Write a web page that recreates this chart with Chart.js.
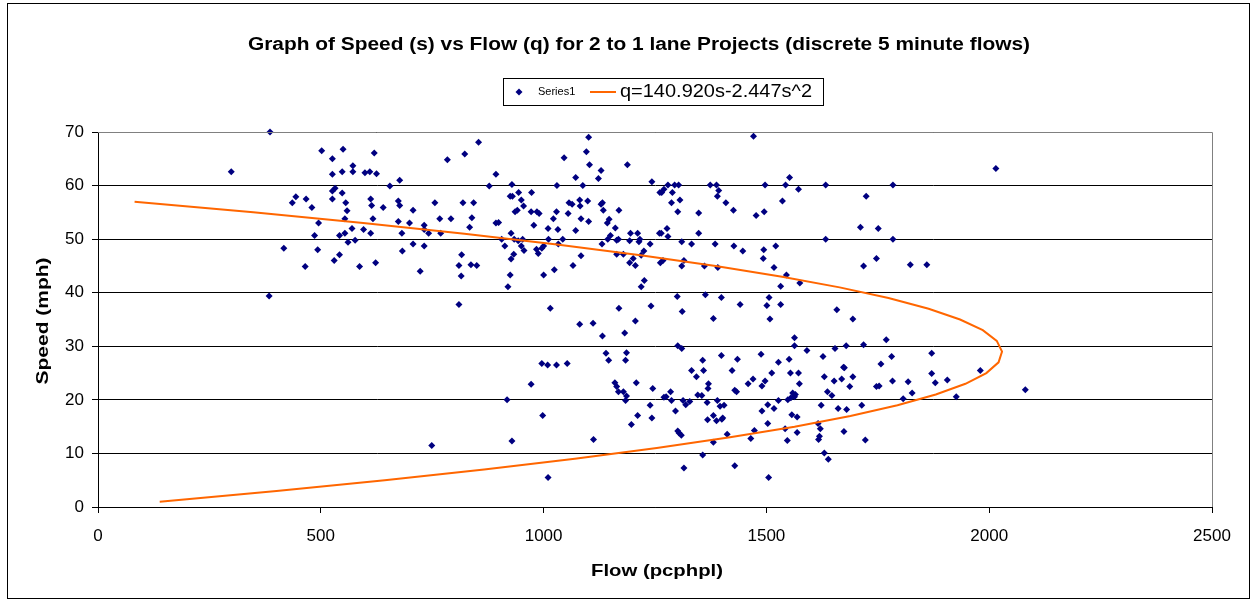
<!DOCTYPE html>
<html>
<head>
<meta charset="utf-8">
<script src="https://cdn.jsdelivr.net/npm/chart.js@4.4.1/dist/chart.umd.min.js"></script>
<style>
  body { margin: 0; background: #fff; }
  canvas { display: block; }
</style>
</head>
<body>
<canvas id="speed-flow" width="1252" height="599"></canvas>
<script>
const flowValues = [
  386, 299, 502, 550, 526, 620, 572, 526, 548, 572, 599, 610, 625, 532, 526, 548, 526, 444, 436, 467,
  480, 556, 559, 554, 612, 614, 617, 495, 570, 596, 612, 554, 542, 486, 561, 577, 417, 493, 542, 530,
  465, 587, 623, 384,
  655, 677, 640, 674, 677, 674, 699, 682, 683, 707, 707, 723, 732, 732, 742, 732, 756, 767, 769, 784,
  792, 823, 854, 819, 843, 839, 834, 816, 810, 815, 837, 850, 810, 893, 878, 893, 899, 906, 913, 927,
  929, 925, 930, 944, 950, 955, 936, 941, 934, 943, 953, 950, 956, 933, 927, 925, 920, 973, 972, 985,
  990, 978, 984, 988, 996, 1000, 1000, 1010, 1011, 1022, 1029, 1030, 1032, 1033, 1043, 1024, 1015, 1046, 1055, 1057,
  1064, 1072, 1072, 1066, 1081, 1082, 1084, 1084, 1088, 1096, 1101, 1103, 1099, 1101, 1123, 1129, 1129, 1132, 1134, 1131,
  1143, 1147, 1150, 1144, 1161, 1164, 1168, 1169, 1164, 1179, 1188, 1195, 1193, 1211, 1216, 1214, 1219, 1225, 1193, 1201,
  1206, 1239, 1243, 1261, 1226, 1219, 1169, 1241,
  1471, 1260, 1264, 1262, 1268, 1265, 1270, 1279, 1294, 1303, 1289, 1287, 1306, 1301, 1277, 1279, 1310, 1315, 1310, 1332,
  1348, 1348, 1361, 1374, 1388, 1393, 1390, 1409, 1426, 1385, 1391, 1427, 1447, 1477, 1495, 1497, 1494, 1493, 1521, 1517,
  1536, 1543, 1552, 1572, 1545, 1575, 1532, 1633, 1633, 1724, 1711, 1751, 1784, 1784, 1747, 1718, 1823, 1860, 1300, 1363,
  1399, 1506, 1441, 1501, 1532, 1311, 1658, 2015,
  1081, 1111, 1206, 1182, 1132, 1140, 1146, 1186, 1184, 996, 1009, 1029, 1053, 972, 918, 998, 929, 749, 1010, 1112,
  1160, 1164, 1168, 1179, 1186, 1184, 1208, 1245, 1239, 1211, 1243, 1197,
  1381, 1508, 1694, 1301, 1310, 1563, 1563, 1591, 1654, 1679, 1718, 1769, 1871, 1357, 1399, 1435, 1488, 1527, 1551, 1627,
  1781, 1757, 1673, 1675, 1332, 1359, 1423, 1343, 1512, 1554, 1572, 1630, 1694, 1669, 1652, 1783, 1818, 1871, 1879, 1470,
  1459, 1497, 1490, 1574, 1687, 1370, 1369, 1285, 1275, 1270, 1287, 1296, 1346, 1355, 1313, 1328, 1319, 1367, 1390, 1396,
  1405, 1368, 1381, 1388, 1400, 1402, 1412, 1381, 1301, 1304, 1309, 1357, 1315, 1429, 1505, 1433, 1429, 1465, 1473, 1490,
  1503, 1503, 1517, 1527, 1542, 1547, 1548, 1555, 1559, 1563, 1565, 1557, 1569, 1569, 1623, 1616, 1621, 1619, 1617, 1630,
  1639, 1637, 1647, 1661, 1680, 1674, 1714, 1722, 1747, 1753, 1807, 1827,
  1906, 1926, 1980, 2081
];
const speedValues = [
  70.0, 62.6, 66.5, 66.8, 65.0, 66.1, 63.7, 62.1, 62.6, 62.6, 62.4, 62.6, 62.2, 59.5, 59.0, 58.6, 57.5, 57.9, 56.8, 57.5,
  55.9, 56.8, 55.3, 53.8, 57.5, 56.3, 53.8, 53.0, 52.0, 51.8, 51.1, 51.1, 50.7, 50.7, 49.4, 49.8, 48.3, 48.0, 47.1, 46.0,
  44.9, 44.9, 45.6, 39.4,
  59.9, 61.0, 55.9, 57.1, 56.3, 53.3, 53.0, 51.1, 47.8, 55.4, 49.1, 44.0, 52.6, 51.8, 51.1, 48.7, 56.8, 53.8, 51.1, 64.8,
  53.8, 65.9, 68.1, 56.8, 56.8, 54.0, 52.2, 47.1, 45.1, 43.1, 45.2, 45.1, 37.8, 62.1, 59.9, 53.0, 53.1, 50.0, 48.7, 51.1,
  60.2, 58.0, 58.0, 58.7, 57.3, 56.2, 55.1, 55.4, 50.0, 49.7, 50.0, 48.7, 47.9, 47.2, 46.3, 43.3, 41.1, 58.7, 55.1, 55.1,
  54.8, 52.6, 48.1, 47.3, 48.3, 48.7, 43.3, 52.0, 50.0, 53.8, 55.1, 60.0, 51.8, 49.1, 50.0, 44.3, 37.1, 65.2, 54.8, 56.8,
  56.5, 61.5, 51.6, 45.1, 57.3, 56.2, 53.8, 46.9, 60.0, 66.3, 69.0, 63.9, 57.1, 53.3, 61.3, 62.8, 56.5, 56.8, 55.4, 49.1,
  53.0, 53.7, 50.7, 50.0, 52.1, 49.8, 50.0, 55.4, 47.2, 47.2, 63.9, 51.1, 49.7, 51.1, 50.0, 49.5, 47.0, 47.8, 45.6, 46.4,
  45.1, 49.1, 60.7, 58.7, 42.3, 41.1, 37.1, 37.5,
  69.2, 51.1, 51.1, 45.6, 46.0, 58.7, 59.3, 60.1, 60.1, 60.1, 58.7, 56.8, 57.3, 55.1, 52.0, 50.5, 49.5, 46.0, 45.0, 49.1,
  54.9, 51.1, 45.0, 60.1, 60.1, 59.1, 58.0, 56.8, 55.4, 49.1, 44.7, 48.7, 47.8, 54.4, 55.1, 60.1, 48.0, 46.4, 48.7, 44.7,
  57.1, 60.1, 61.5, 59.3, 43.3, 41.8, 41.2, 60.1, 50.0, 58.0, 52.2, 52.0, 60.1, 50.0, 46.4, 45.0, 45.2, 45.2, 39.3, 39.6,
  39.1, 39.1, 37.8, 37.6, 37.8, 36.5, 36.8, 63.2,
  34.1, 34.3, 34.7, 32.5, 31.9, 28.7, 27.4, 28.8, 27.4, 26.8, 26.5, 26.5, 26.8, 22.9, 20.0, 17.1, 12.3, 11.5, 5.5, 12.6,
  23.2, 22.5, 21.5, 21.5, 20.7, 19.9, 23.2, 22.1, 19.0, 17.1, 16.6, 15.4,
  35.2, 35.1, 35.1, 30.1, 29.6, 31.6, 30.1, 29.2, 29.6, 30.1, 30.3, 31.2, 28.7, 27.4, 28.3, 27.6, 28.5, 27.0, 27.6, 28.1,
  28.1, 26.7, 26.1, 26.0, 25.5, 25.5, 25.5, 24.3, 25.0, 25.0, 25.0, 24.3, 24.3, 23.9, 23.5, 23.5, 23.4, 24.9, 23.2, 23.9,
  23.0, 23.5, 22.6, 23.0, 22.5, 23.0, 22.1, 21.5, 20.6, 20.5, 19.9, 17.9, 20.9, 20.8, 19.9, 19.7, 19.1, 19.5, 19.9, 18.8,
  19.0, 16.3, 17.1, 16.1, 16.4, 16.6, 13.6, 12.1, 14.2, 13.8, 13.4, 9.7, 7.3, 7.7, 5.5, 21.5, 21.8, 12.8, 14.3, 17.9,
  19.1, 15.6, 18.4, 19.9, 14.6, 12.4, 20.0, 20.4, 21.3, 20.6, 21.0, 17.2, 16.8, 13.9, 19.0, 15.6, 14.6, 13.2, 12.6, 10.1,
  8.9, 21.5, 20.8, 18.4, 18.2, 14.1, 19.0, 12.5, 22.5, 22.6, 20.2, 21.3,
  23.7, 20.6, 25.5, 21.9
];

// fitted curve q = 140.920s - 2.447s^2, points along the orange line
const curveSpeed = [1, 3, 5, 7, 9, 11, 13, 15, 17, 19, 21, 23, 25, 27, 29, 31, 33, 35, 37, 39, 41, 43, 45, 47, 49, 51, 53, 55, 57];
const curveFlow = [138.5, 400.7, 643.4, 866.5, 1070.1, 1254.0, 1418.4, 1563.2, 1688.5, 1794.1, 1880.2, 1946.7, 1993.6, 2021.0, 2028.8,
  2017.0, 1985.6, 1934.6, 1864.1, 1774.0, 1664.3, 1535.1, 1386.2, 1217.8, 1029.8, 822.3, 595.1, 348.4, 82.1];

const chartTitle = "Graph of Speed (s) vs Flow (q) for 2 to 1 lane Projects (discrete 5 minute flows)";
const seriesNames = ["Series1", "q=140.920s-2.447s^2"];
const xTitle = "Flow (pcphpl)";
const yTitle = "Speed (mph)";

const FONT = "'Liberation Sans', Arial, sans-serif";
const NAVY = "#000080";
const ORANGE = "#FF6600";

let canvas = document.getElementById("speed-flow");
let ctx = canvas.getContext("2d");

const scatterPts = flowValues.map((f, i) => ({ x: f, y: speedValues[i] }));
const curvePts = curveFlow.map((f, i) => ({ x: f, y: curveSpeed[i] }));

function diamond(c, x, y, r) {
    c.beginPath();
    c.moveTo(x, y - r);
    c.lineTo(x + r, y);
    c.lineTo(x, y + r);
    c.lineTo(x - r, y);
    c.closePath();
    c.fill();
}

// the original text is a bit wider than Arial, so stretch it to the same width
function wideText(c, text, x, y, width, angle) {
    const w = c.measureText(text).width;
    c.save();
    c.translate(x, y);
    if (angle) c.rotate(angle);
    c.scale(width / w, 1);
    c.fillText(text, 0, 0);
    c.restore();
}

new Chart(ctx, {
    type: 'scatter',
    data: {
        datasets: [
            {
                label: seriesNames[1],
                data: curvePts,
                showLine: true,
                borderColor: ORANGE,
                borderWidth: 2,
                pointRadius: 0,
                fill: false,
                tension: 0,
                order: 0
            },
            {
                label: seriesNames[0],
                data: scatterPts,
                pointStyle: 'rectRot',
                pointRadius: 3.5,
                backgroundColor: NAVY,
                borderColor: NAVY,
                borderWidth: 0,
                clip: 6,
                order: 1
            }
        ]
    },
    options: {
        responsive: false,
        animation: false,
        layout: { padding: { top: 132, right: 40, left: 0, bottom: 0 } },
        plugins: {
            legend: { display: false },
            tooltip: { enabled: false }
        },
        scales: {
            x: {
                type: 'linear',
                min: 0,
                max: 2500,
                ticks: {
                    stepSize: 500, color: '#000', font: { family: FONT, size: 17 }, padding: 13,
                    callback: v => String(v)
                },
                grid: { drawOnChartArea: false, color: '#000', tickLength: 6 },
                border: { color: '#000', width: 1 },
                afterFit: function (scale) { scale.height = 92; }
            },
            y: {
                min: 0,
                max: 70,
                ticks: { stepSize: 10, color: '#000', font: { family: FONT, size: 17 }, padding: 8 },
                grid: { color: '#000', tickLength: 6 },
                border: { color: '#000', width: 1 },
                afterFit: function (scale) { scale.width = 98; }
            }
        }
    },
    plugins: [
        {
            afterDraw: function (chart) {
                const c = chart.ctx;
                const area = chart.chartArea;
                c.save();

                // grey frame on the top and right of the plot
                c.strokeStyle = '#808080';
                c.lineWidth = 1;
                c.beginPath();
                c.moveTo(area.left, area.top + 0.5);
                c.lineTo(area.right + 0.5, area.top + 0.5);
                c.lineTo(area.right + 0.5, area.bottom);
                c.stroke();

                // outer border of the chart
                c.strokeStyle = '#000';
                c.strokeRect(7.5, 3.5, 1242, 595);

                // title
                c.fillStyle = '#000';
                c.textAlign = 'center';
                c.textBaseline = 'middle';
                c.font = 'bold 18px ' + FONT;
                wideText(c, chartTitle, 639, 45, 782);

                // axis titles
                c.font = 'bold 17px ' + FONT;
                wideText(c, xTitle, 657, 571, 132);
                wideText(c, yTitle, 43, 321, 127, -Math.PI / 2);

                // legend box
                c.strokeStyle = '#000';
                c.strokeRect(503.5, 78.5, 320, 27);
                c.fillStyle = NAVY;
                diamond(c, 519, 92, 3.5);
                c.fillStyle = '#000';
                c.textAlign = 'left';
                c.font = '11px ' + FONT;
                c.fillText(seriesNames[0], 538, 92);
                c.strokeStyle = ORANGE;
                c.lineWidth = 2;
                c.beginPath();
                c.moveTo(590, 92);
                c.lineTo(616, 92);
                c.stroke();
                c.font = '18px ' + FONT;
                c.textAlign = 'center';
                wideText(c, seriesNames[1], 716, 92, 192);

                c.restore();
            }
        }
    ]
});
</script>
</body>
</html>
